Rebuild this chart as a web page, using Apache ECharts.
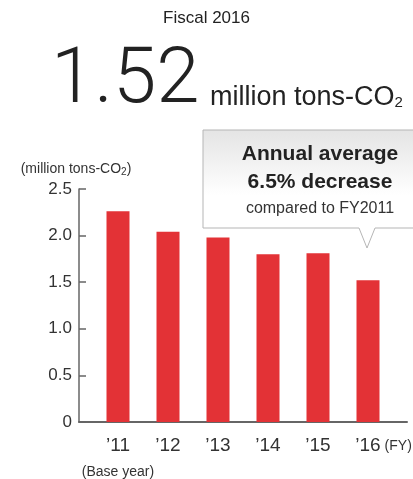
<!DOCTYPE html>
<html>
<head>
<meta charset="utf-8">
<script src="https://cdn.jsdelivr.net/npm/echarts@6/dist/echarts.min.js"></script>
<style>
  html, body { margin: 0; padding: 0; background: #fff; }
  #chart { width: 413px; height: 479px; }
</style>
</head>
<body>
<div id="chart"></div>
<script>
// fiscal years and emissions (million tons-CO2)
const years = ['\u201911', '\u201912', '\u201913', '\u201914', '\u201915', '\u201916'];
const emissions = [2.26, 2.04, 1.98, 1.80, 1.81, 1.52];
const yTicks = [0, 0.5, 1.0, 1.5, 2.0, 2.5];

const FONT = '"Liberation Sans", Arial, sans-serif';
const LIGHT = 'Roboto, "Liberation Sans", Arial, sans-serif';
const NARROW = '"Liberation Sans Narrow", "Liberation Sans", Arial, sans-serif';
const RED = '#e33236';
const AXIS = '#666';

const chart = echarts.init(document.getElementById('chart'));

const option = {
    animation: false,
    grid: { left: 79, right: 6, top: 189, bottom: 55 },
    xAxis: {
        type: 'value',
        min: -0.78,
        max: 5.78,
        splitLine: { show: false },
        axisLine: { show: true, lineStyle: { color: AXIS, width: 2 } },
        axisTick: { show: false },
        axisLabel: {
            customValues: [0, 1, 2, 3, 4, 5],
            margin: 14,
            color: '#333',
            fontFamily: NARROW,
            fontSize: 19,
            formatter: v => v === 0 ? years[0] + '\n{s|(Base year)}' : years[v],
            rich: {
                s: { fontSize: 14, color: '#333', fontFamily: NARROW, padding: [10, 0, 0, 0] }
            }
        },
        name: '(FY)',
        nameLocation: 'end',
        nameGap: 0,
        nameTextStyle: {
            align: 'right', verticalAlign: 'top', padding: [17, 4, 0, 0],
            fontSize: 14, color: '#333', fontFamily: NARROW
        }
    },
    yAxis: {
        type: 'value',
        min: yTicks[0],
        max: yTicks[yTicks.length - 1],
        interval: 0.5,
        splitLine: { show: false },
        axisLine: { show: true, onZero: false, lineStyle: { color: AXIS, width: 1.5 } },
        axisTick: { show: true, inside: true, length: 7, lineStyle: { color: AXIS, width: 1.5 } },
        axisLabel: {
            margin: 7,
            color: '#333',
            fontFamily: NARROW,
            fontSize: 17,
            formatter: v => v === 0 ? '0' : v.toFixed(1)
        },
        name: '(million tons-CO{s|2})',
        nameLocation: 'end',
        nameGap: 12,
        nameTextStyle: {
            color: '#333', fontFamily: NARROW, fontSize: 14, padding: [0, 6, 0, 0],
            rich: { s: { fontSize: 10, color: '#333', fontFamily: NARROW, padding: [6, 0, 0, 0] } }
        }
    },
    series: [{
        type: 'bar',
        barWidth: 23,
        itemStyle: { color: RED },
        data: emissions.map((v, i) => [i, v])
    }],
    graphic: [
        {
            type: 'text', left: 'center', top: 10,
            style: { text: 'Fiscal 2016', fill: '#222', font: '17px ' + FONT }
        },
        {
            type: 'text', x: 51, y: 43,
            style: { text: '1.52', fill: '#222', font: '300 78px ' + LIGHT }
        },
        {
            type: 'text', x: 210, y: 84,
            style: {
                text: 'million tons-CO{s|2}', fill: '#222', font: '27px ' + FONT,
                rich: { s: { fontSize: 15, fill: '#222', fontFamily: FONT, padding: [11, 0, 0, 0] } }
            }
        },
        {
            type: 'polygon',
            shape: { points: [[203, 130], [420, 130], [420, 228], [375, 228], [367, 248], [359, 228], [203, 228]] },
            style: {
                fill: new echarts.graphic.LinearGradient(0, 0, 0, 1, [
                    { offset: 0, color: '#e4e4e4' },
                    { offset: 0.55, color: '#ffffff' },
                    { offset: 1, color: '#ffffff' }
                ]),
                stroke: '#b5b5b5', lineWidth: 1
            }
        },
        {
            type: 'text', x: 320, y: 154,
            style: { text: 'Annual average', fill: '#222', font: 'bold 21px ' + FONT, align: 'center', verticalAlign: 'middle' }
        },
        {
            type: 'text', x: 320, y: 182,
            style: { text: '6.5% decrease', fill: '#222', font: 'bold 21px ' + FONT, align: 'center', verticalAlign: 'middle' }
        },
        {
            type: 'text', x: 320, y: 209,
            style: { text: 'compared to FY2011', fill: '#333', font: '16px ' + FONT, align: 'center', verticalAlign: 'middle' }
        }
    ]
};

chart.setOption(option);
</script>
</body>
</html>
